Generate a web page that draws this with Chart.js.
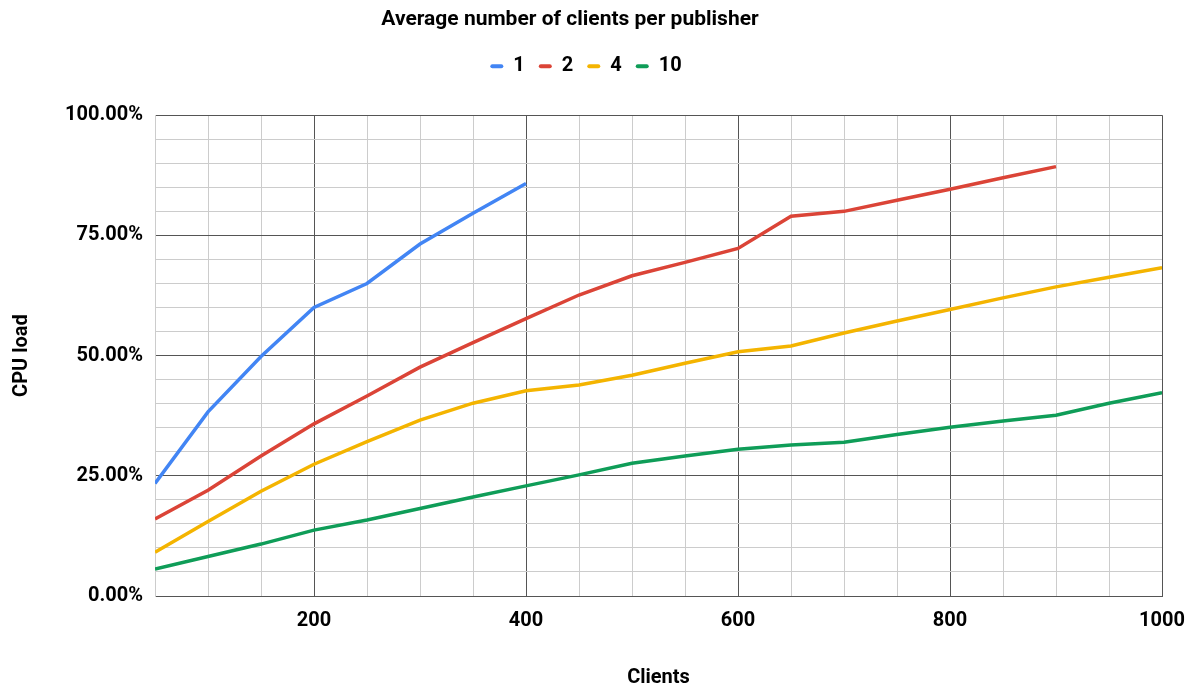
<!DOCTYPE html>
<html>
<head>
<meta charset="utf-8">
<script src="https://cdn.jsdelivr.net/npm/chart.js@4"></script>
<style>
  body { margin: 0; background: #fff; }
  #wrap { width: 1193px; height: 686px; }
</style>
</head>
<body>
<div id="wrap"><canvas id="chart"></canvas></div>
<script>
// clients on the x axis
const clients = [50, 100, 150, 200, 250, 300, 350, 400, 450, 500, 550, 600, 650, 700, 750, 800, 850, 900, 950, 1000];
// CPU load (%) per average number of clients per publisher
const load1 = [23.4, 38.3, 49.8, 60.0, 65.0, 73.2, 79.6, 85.8, null, null, null, null, null, null, null, null, null, null, null, null];
const load2 = [16.0, 22.0, 29.1, 35.8, 41.6, 47.6, 52.7, 57.7, 62.6, 66.6, 69.4, 72.3, 79.0, 80.0, 82.3, 84.6, 87.0, 89.3, null, null];
const load4 = [9.1, 15.5, 21.8, 27.4, 32.1, 36.6, 40.1, 42.7, 43.9, 45.9, 48.4, 50.8, 52.0, 54.7, 57.2, 59.6, 62.0, 64.3, 66.3, 68.3];
const load10 = [5.6, 8.2, 10.8, 13.7, 15.8, 18.2, 20.6, 22.9, 25.2, 27.6, 29.1, 30.5, 31.4, 32.0, 33.6, 35.1, 36.4, 37.6, 40.1, 42.3];
const seriesNames = ["1", "2", "4", "10"];
const colors = ["#4285F4", "#DB4437", "#F4B400", "#0F9D58"];

const FONT = "Roboto";
const MAJOR = "#555";
const MINOR = "#ccc";

function toPoints(vals) {
  return clients.map((c, i) => ({ x: c, y: vals[i] }));
}

const datasets = [load1, load2, load4, load10].map((vals, i) => ({
  label: seriesNames[i],
  data: toPoints(vals),
  borderColor: colors[i],
  backgroundColor: colors[i],
  borderWidth: 3.5,
  pointRadius: 0,
  tension: 0,
  spanGaps: false,
}));

// shift a box's drawing sideways without touching the layout
function nudge(chart, box, dx) {
  const draw = box.draw;
  box.draw = function () {
    chart.ctx.save();
    chart.ctx.translate(dx, 0);
    draw.apply(box, arguments);
    chart.ctx.restore();
  };
}

// push the plot area down below the legend, line up title + legend
const headerTweak = {
  id: "headerTweak",
  beforeInit(chart) {
    const legend = chart.legend;
    const fit = legend.fit;
    legend.fit = function () {
      fit.bind(legend)();
      this.height += 29;
    };
    nudge(chart, legend, 5);
    nudge(chart, chart.titleBlock, -11);
  },
};

let ctx = document.getElementById("chart").getContext("2d");
new Chart(ctx, {
  type: "line",
  data: { datasets: datasets },
  plugins: [headerTweak],
  options: {
    responsive: true,
    maintainAspectRatio: false,
    animation: false,
    layout: { padding: { left: 0, right: 31, top: 0, bottom: 0 } },
    plugins: {
      title: {
        display: true,
        text: "Average number of clients per publisher",
        color: "#000",
        font: { family: FONT, size: 21, weight: "bold" },
        padding: { top: 7, bottom: 10 },
      },
      legend: {
        position: "top",
        align: "center",
        labels: {
          color: "#000",
          font: { family: FONT, size: 20, weight: "bold" },
          boxWidth: 13,
          boxHeight: 4,
          padding: 14,
          useBorderRadius: true,
          borderRadius: 2,
          generateLabels: (chart) =>
            Chart.defaults.plugins.legend.labels.generateLabels(chart).map((l) => ({ ...l, lineWidth: 0 })),
        },
      },
      tooltip: { enabled: false },
    },
    scales: {
      x: {
        type: "linear",
        min: 50,
        max: 1000,
        afterFit: (scale) => {
          scale.height = 90;
          scale.paddingRight = 0;
        },
        ticks: {
          stepSize: 50,
          color: "#000",
          padding: 13,
          autoSkip: false,
          maxRotation: 0,
          font: { family: FONT, size: 20, weight: "bold" },
          callback: (v) => (v % 200 === 0 ? v : ""),
        },
        grid: {
          drawTicks: false,
          color: (c) => (c.tick && c.tick.value % 200 === 0 ? MAJOR : MINOR),
          lineWidth: 1,
        },
        border: { color: MAJOR },
        title: {
          display: true,
          text: "Clients",
          color: "#000",
          font: { family: FONT, size: 20, weight: "bold" },
          padding: { top: 0, bottom: -4 },
        },
      },
      y: {
        min: 0,
        max: 100,
        afterFit: (scale) => { scale.width = 155; },
        ticks: {
          stepSize: 5,
          color: "#000",
          padding: 12,
          autoSkip: false,
          font: { family: FONT, size: 20, weight: "bold" },
          callback: (v) => (v % 25 === 0 ? v.toFixed(2) + "%" : ""),
        },
        grid: {
          drawTicks: false,
          color: (c) => (c.tick && c.tick.value % 25 === 0 ? MAJOR : MINOR),
          lineWidth: 1,
        },
        border: { color: MINOR },
        title: {
          display: true,
          text: "CPU load",
          color: "#000",
          font: { family: FONT, size: 20, weight: "bold" },
          padding: { top: 10, bottom: 0 },
        },
      },
    },
  },
});
</script>
</body>
</html>
